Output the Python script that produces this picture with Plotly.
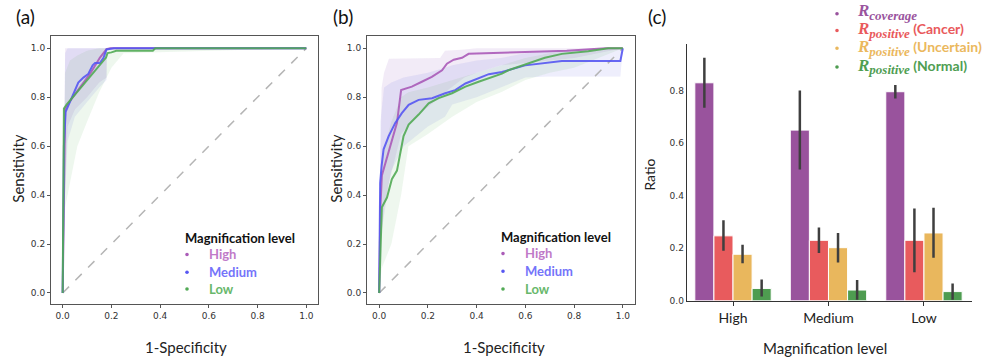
import plotly.graph_objects as go

W, H = 985, 364

levels = ["High", "Medium", "Low"]
roc_colors = ["#ab5cb8", "#5757f2", "#52aa55"]
legend_text_colors = ["#c07ac8", "#7474fa", "#68b86b"]
band_colors = ["rgba(150,90,190,0.12)", "rgba(90,90,230,0.10)", "rgba(90,180,90,0.10)"]

# ---------------- Panel (a) ROC ----------------
a_high_x = [0, 0.01, 0.037, 0.071, 0.112, 0.153, 0.18, 0.195, 1.0]
a_high_y = [0, 0.754, 0.794, 0.841, 0.895, 0.962, 0.996, 1.0, 1.0]
a_med_x = [0, 0.005, 0.012, 0.03, 0.064, 0.085, 0.105, 0.123, 0.133, 0.153, 0.167, 0.18, 0.21, 1.0]
a_med_y = [0, 0.6, 0.74, 0.78, 0.86, 0.88, 0.895, 0.93, 0.94, 0.94, 0.96, 0.995, 1.0, 1.0]
a_low_x = [0, 0.005, 0.016, 0.07, 0.11, 0.153, 0.167, 0.178, 0.184, 0.2, 0.22, 0.37, 0.38, 1.0]
a_low_y = [0, 0.754, 0.77, 0.834, 0.88, 0.935, 0.95, 0.962, 0.98, 0.983, 0.99, 0.99, 1.0, 1.0]

a_high_bx = [0, 0.01, 0.02, 0.05, 0.1, 0.15, 0.18, 0.181, 1.0]
a_high_lo = [0, 0.45, 0.68, 0.75, 0.8, 0.86, 0.88, 1.0, 1.0]
a_high_hi = [0, 1.0, 1.0, 1.0, 1.0, 1.0, 1.0, 1.0, 1.0]
a_med_bx = [0, 0.01, 0.02, 0.05, 0.1, 0.15, 0.18, 0.181, 1.0]
a_med_lo = [0, 0.4, 0.62, 0.72, 0.78, 0.84, 0.87, 1.0, 1.0]
a_med_hi = [0, 0.98, 1.0, 1.0, 1.0, 1.0, 1.0, 1.0, 1.0]
a_low_bx = [0, 0.01, 0.03, 0.06, 0.1, 0.15, 0.2, 0.25, 1.0]
a_low_lo = [0, 0.35, 0.45, 0.6, 0.7, 0.82, 0.92, 0.98, 1.0]
a_low_hi = [0, 0.9, 0.95, 0.97, 0.99, 1.0, 1.0, 1.0, 1.0]

# ---------------- Panel (b) ROC ----------------
b_high_x = [0, 0.005, 0.011, 0.045, 0.073, 0.09, 0.134, 0.175, 0.216, 0.258, 0.278, 0.306, 0.34, 0.367, 0.5, 0.6, 0.77, 0.93, 1.0]
b_high_y = [0, 0.35, 0.48, 0.6, 0.695, 0.829, 0.843, 0.863, 0.883, 0.91, 0.937, 0.953, 0.961, 0.977, 0.98, 0.985, 0.99, 1.0, 1.0]
b_med_x = [0, 0.004, 0.01, 0.018, 0.039, 0.066, 0.093, 0.121, 0.162, 0.217, 0.271, 0.312, 0.354, 0.408, 0.45, 0.504, 0.599, 0.75, 0.99, 1.0]
b_med_y = [0, 0.45, 0.52, 0.587, 0.641, 0.695, 0.735, 0.769, 0.789, 0.796, 0.816, 0.829, 0.856, 0.876, 0.894, 0.903, 0.93, 0.948, 0.948, 1.0]
b_low_x = [0, 0.011, 0.032, 0.052, 0.073, 0.1, 0.121, 0.162, 0.203, 0.244, 0.299, 0.354, 0.408, 0.463, 0.504, 0.53, 0.612, 0.68, 0.75, 0.858, 0.94, 1.0]
b_low_y = [0, 0.35, 0.39, 0.465, 0.5, 0.641, 0.688, 0.729, 0.775, 0.796, 0.816, 0.843, 0.863, 0.883, 0.896, 0.91, 0.937, 0.961, 0.977, 0.988, 1.0, 1.0]

b_high_bx = [0, 0.005, 0.01, 0.02, 0.04, 0.09, 0.15, 0.25, 0.27, 0.35, 0.4, 0.5, 0.8, 1.0]
b_high_lo = [0, 0.2, 0.25, 0.32, 0.45, 0.65, 0.72, 0.8, 0.82, 0.88, 0.9, 0.93, 0.96, 1.0]
b_high_hi = [0, 0.5, 0.84, 0.9, 0.957, 0.957, 0.958, 0.96, 0.99, 0.995, 1.0, 1.0, 1.0, 1.0]
b_med_bx = [0, 0.005, 0.02, 0.05, 0.1, 0.2, 0.27, 0.3, 0.4, 0.5, 0.6, 0.7, 0.99, 1.0]
b_med_lo = [0, 0.2, 0.35, 0.5, 0.6, 0.68, 0.72, 0.77, 0.8, 0.84, 0.88, 0.885, 0.885, 1.0]
b_med_hi = [0, 0.7, 0.84, 0.86, 0.88, 0.9, 0.92, 0.93, 0.95, 0.96, 0.98, 0.99, 1.0, 1.0]
b_low_bx = [0, 0.01, 0.05, 0.09, 0.12, 0.2, 0.3, 0.4, 0.5, 0.6, 0.7, 0.8, 0.9, 1.0]
b_low_lo = [0, 0.1, 0.2, 0.4, 0.6, 0.65, 0.72, 0.78, 0.82, 0.87, 0.9, 0.92, 0.96, 1.0]
b_low_hi = [0, 0.55, 0.7, 0.8, 0.82, 0.84, 0.87, 0.9, 0.93, 0.96, 0.98, 0.99, 1.0, 1.0]

# ---------------- Panel (c) bars ----------------
bar_names = ["coverage", "positive", "positive", "positive"]
bar_suffix = ["", "(Cancer)", "(Uncertain)", "(Normal)"]
bar_colors = ["#99539d", "#e85b5d", "#e9b75d", "#4e9c50"]
bar_text_colors = ["#9a549e", "#e95a5c", "#ebb85e", "#4f9e52"]
cov = [0.829, 0.649, 0.795]
cov_lo = [0.734, 0.499, 0.769]
cov_hi = [0.924, 0.80, 0.821]
cancer = [0.247, 0.23, 0.23]
cancer_lo = [0.19, 0.182, 0.109]
cancer_hi = [0.306, 0.279, 0.351]
uncertain = [0.177, 0.202, 0.258]
uncertain_lo = [0.143, 0.146, 0.164]
uncertain_hi = [0.213, 0.258, 0.354]
normal = [0.047, 0.041, 0.035]
normal_lo = [0.016, 0.004, 0.004]
normal_hi = [0.081, 0.079, 0.066]
bar_vals = [cov, cancer, uncertain, normal]
bar_los = [cov_lo, cancer_lo, uncertain_lo, normal_lo]
bar_his = [cov_hi, cancer_hi, uncertain_hi, normal_hi]

roc_ticks = [0.0, 0.2, 0.4, 0.6, 0.8, 1.0]
roc_tick_labels = ["0.0", "0.2", "0.4", "0.6", "0.8", "1.0"]
ratio_ticks = [0.0, 0.2, 0.4, 0.6, 0.8]
ratio_tick_labels = ["0.0", "0.2", "0.4", "0.6", "0.8"]


def px(x):
    return x / W


def py(y):
    return 1 - y / H


fig = go.Figure()

panels = [
    ("x", "y",
     [(a_high_x, a_high_y), (a_med_x, a_med_y), (a_low_x, a_low_y)],
     [(a_high_bx, a_high_lo, a_high_hi), (a_med_bx, a_med_lo, a_med_hi), (a_low_bx, a_low_lo, a_low_hi)]),
    ("x2", "y2",
     [(b_high_x, b_high_y), (b_med_x, b_med_y), (b_low_x, b_low_y)],
     [(b_high_bx, b_high_lo, b_high_hi), (b_med_bx, b_med_lo, b_med_hi), (b_low_bx, b_low_lo, b_low_hi)]),
]

for xa, ya, curves, bands in panels:
    for i, (bx, lo, hi) in enumerate(bands):
        fig.add_trace(go.Scatter(
            x=list(bx) + list(bx)[::-1], y=list(lo) + list(hi)[::-1],
            fill="toself", fillcolor=band_colors[i], line=dict(width=0),
            mode="lines", showlegend=False, hoverinfo="skip", xaxis=xa, yaxis=ya))
    fig.add_trace(go.Scatter(
        x=[0, 1], y=[0, 1], mode="lines",
        line=dict(color="#b5b5b5", width=1.5, dash="dash"),
        showlegend=False, xaxis=xa, yaxis=ya))
    for i, (cx, cy) in enumerate(curves):
        fig.add_trace(go.Scatter(
            x=cx, y=cy, mode="lines", name=levels[i],
            line=dict(color=roc_colors[i], width=2),
            opacity=0.9, showlegend=False, xaxis=xa, yaxis=ya))

for j in range(4):
    vals = bar_vals[j]
    fig.add_trace(go.Bar(
        x=levels, y=vals, marker=dict(color=bar_colors[j], line=dict(color="white", width=1)),
        error_y=dict(type="data", symmetric=False,
                     array=[h - v for h, v in zip(bar_his[j], vals)],
                     arrayminus=[v - l for l, v in zip(bar_los[j], vals)],
                     color="#3f3f3f", thickness=2.5, width=0),
        showlegend=False, xaxis="x3", yaxis="y3"))

tickfont = dict(family="DejaVu Sans", size=9, color="#333333")
roc_y_dom = [py(308), py(36)]

common_roc = dict(showline=True, linecolor="#555555", linewidth=1, mirror=True,
                  showgrid=False, zeroline=False, ticks="outside", ticklen=3,
                  tickcolor="#555555", tickfont=tickfont)

fig.update_layout(
    width=W, height=H, margin=dict(l=0, r=0, t=0, b=0),
    paper_bgcolor="white", plot_bgcolor="white",
    barmode="group", bargap=0.2, bargroupgap=0,
    xaxis=dict(domain=[px(51), px(318)], range=[-0.048, 1.048], anchor="y",
               tickvals=roc_ticks, ticktext=roc_tick_labels, **common_roc),
    yaxis=dict(domain=roc_y_dom, range=[-0.044, 1.052], anchor="x",
               tickvals=roc_ticks, ticktext=roc_tick_labels, **common_roc),
    xaxis2=dict(domain=[px(367), px(635)], range=[-0.05, 1.05], anchor="y2",
                tickvals=roc_ticks, ticktext=roc_tick_labels, **common_roc),
    yaxis2=dict(domain=roc_y_dom, range=[-0.044, 1.052], anchor="x2",
                tickvals=roc_ticks, ticktext=roc_tick_labels, **common_roc),
    xaxis3=dict(domain=[px(686.7), px(971.7)], range=[-0.485, 2.5], anchor="y3",
                showline=True, linecolor="#333333", linewidth=1, showgrid=False,
                zeroline=False, ticks="outside", ticklen=4, tickcolor="#333333",
                tickfont=dict(family="Lato", size=14, color="#222222")),
    yaxis3=dict(domain=[py(305), py(45)], range=[0, 0.975], anchor="x3",
                showline=True, linecolor="#333333", linewidth=1, showgrid=False,
                zeroline=False, tickvals=ratio_ticks, ticktext=ratio_tick_labels,
                tickfont=tickfont),
)

ann = []
shapes = []
title_font = dict(family="Lato", size=15, color="#222222")
# panel labels
for label, x in [("(a)", 25), ("(b)", 343), ("(c)", 657)]:
    ann.append(dict(text=label, x=px(x), y=py(17), xref="paper", yref="paper",
                    showarrow=False, xanchor="center", yanchor="middle",
                    font=dict(family="Lato", size=19, color="#111111")))
# axis titles
for x in [186, 504]:
    ann.append(dict(text="1-Specificity", x=px(x), y=py(352), xref="paper", yref="paper",
                    showarrow=False, xanchor="center", yanchor="middle", font=title_font))
for x in [18, 336]:
    ann.append(dict(text="Sensitivity", x=px(x), y=py(171), xref="paper", yref="paper",
                    showarrow=False, xanchor="center", yanchor="middle", textangle=-90,
                    font=title_font))
ann.append(dict(text="Ratio", x=px(650), y=py(177), xref="paper", yref="paper",
                showarrow=False, xanchor="center", yanchor="middle", textangle=-90,
                font=dict(family="Lato", size=14, color="#222222")))
ann.append(dict(text="Magnification level", x=px(825), y=py(353), xref="paper", yref="paper",
                showarrow=False, xanchor="center", yanchor="middle", font=title_font))


def dot(cx, cy, color, r=1.8):
    shapes.append(dict(type="circle", xref="paper", yref="paper",
                       x0=px(cx - r), x1=px(cx + r), y0=py(cy + r), y1=py(cy - r),
                       fillcolor=color, line=dict(width=0)))


# ROC legends
for (tx, dot_x, text_x, ty, rows) in [(183, 187, 207, 241, [258, 276, 293]),
                                       (499, 503, 523, 240, [257, 275, 293])]:
    ann.append(dict(text="<b>Magnification level</b>", x=px(tx), y=py(ty), xref="paper",
                    yref="paper", showarrow=False, xanchor="left", yanchor="middle",
                    font=dict(family="Lato", size=13, color="#111111")))
    for i, ry in enumerate(rows):
        dot(dot_x, ry, roc_colors[i])
        ann.append(dict(text="<b>" + levels[i] + "</b>", x=px(text_x), y=py(ry), xref="paper",
                        yref="paper", showarrow=False, xanchor="left", yanchor="middle",
                        font=dict(family="Lato", size=13, color=legend_text_colors[i])))

# bar legend (one text block, one line per series)
bar_rows = [14, 31, 49, 68]
lines = []
for j, ry in enumerate(bar_rows):
    dot(837, ry, bar_colors[j])
    line = ("<span style='color:" + bar_text_colors[j] + "'>"
            "<span style='font-family:Liberation Serif;font-size:17px'><b><i>R</i></b>"
            "<sub><span style='font-size:13px'><b><i>" + bar_names[j] + "</i></b></span></sub></span>")
    if bar_suffix[j]:
        line += "<b> " + bar_suffix[j] + "</b>"
    line += "</span>"
    lines.append(line)
ann.append(dict(text="<br>".join(lines), x=px(855), y=py(40), xref="paper", yref="paper",
                showarrow=False, xanchor="left", yanchor="middle", align="left",
                font=dict(family="Lato", size=14, color="#333333")))

fig.update_layout(annotations=ann, shapes=shapes)

fig.write_html("out.html", config={"displayModeBar": False},
               post_script="document.body.style.margin='0px';")
